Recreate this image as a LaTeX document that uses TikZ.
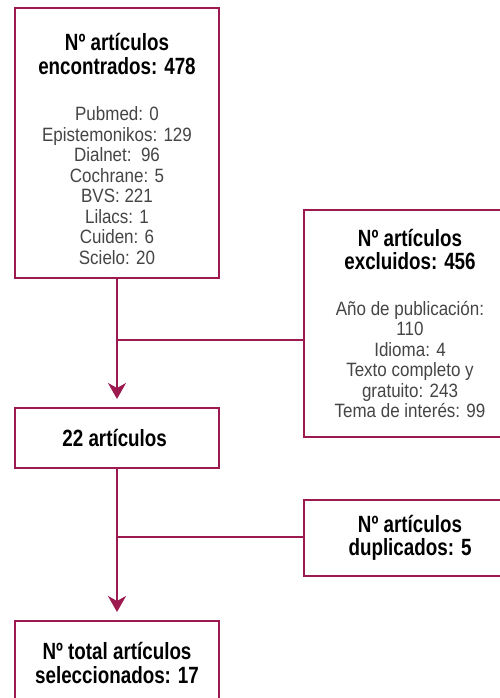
\documentclass[tikz,border=0pt]{standalone}
\usepackage{fontspec}
\setmainfont[FakeStretch=0.88]{Liberation Sans}
\newfontfamily\headfont[FakeStretch=0.80]{Liberation Sans}
\usepackage{xcolor}
\usetikzlibrary{arrows.meta}
\definecolor{wine}{HTML}{9C1A50}
\definecolor{bodygray}{HTML}{454545}

\newcommand{\headtxt}[1]{{\headfont\fontsize{23.5}{22}\selectfont\bfseries\color{black}#1}}

\begin{document}
\begin{tikzpicture}[
    x=1pt, y=-1pt,
    box/.style={
        rectangle,
        line width=2pt,
        draw=wine,
        fill=white,
        inner sep=0pt,
        align=center,
        text=bodygray,
        font=\fontsize{19.3}{20.5}\selectfont
    },
    arrow/.style={-{Stealth[length=16pt,width=18pt,inset=5pt]}, line width=2pt, wine, shorten >=8pt},
    link/.style={line width=2pt, wine}
]

\useasboundingbox (0,0) rectangle (499,698);

% Left column
\node[box, minimum width=204pt, minimum height=270pt] (found) at (117,143) {
\headtxt{\rule{0pt}{29pt}Nº artículos}\\[3pt]
\headtxt{encontrados: 478}\\[26pt]
Pubmed: 0\\
Epistemonikos: 129\\
Dialnet:\ \ 96\\
Cochrane: 5\\
BVS: 221\\
Lilacs: 1\\
Cuiden: 6\\
Scielo: 20
};

\node[box, minimum width=204pt, minimum height=60pt] (mid) at (117,438) {
\headtxt{22 artículos}
};

\node[box, minimum width=204pt, minimum height=84pt] (final) at (117,663) {
\headtxt{Nº total artículos}\\[3pt]
\headtxt{seleccionados: 17}
};

% Right column
\node[box, minimum width=212pt, minimum height=227pt] (excl) at (410,323.5) {
\headtxt{Nº artículos}\\[3pt]
\headtxt{excluidos: 456}\\[25pt]
Año de publicación:\\
110\\
Idioma: 4\\
Texto completo y\\
gratuito: 243\\
Tema de interés: 99
};

\node[box, minimum width=212pt, minimum height=76pt] (dup) at (410,538) {
\headtxt{Nº artículos}\\[3pt]
\headtxt{duplicados: 5}
};

% Arrows
\coordinate (j1) at (117,340);
\coordinate (j2) at (117,537);

\draw[arrow] (found) -- (mid);
\draw[arrow] (mid) -- (final);
\draw[link] (j1) -- (j1 -| excl.west);
\draw[link] (j2) -- (j2 -| dup.west);

\end{tikzpicture}
\end{document}
